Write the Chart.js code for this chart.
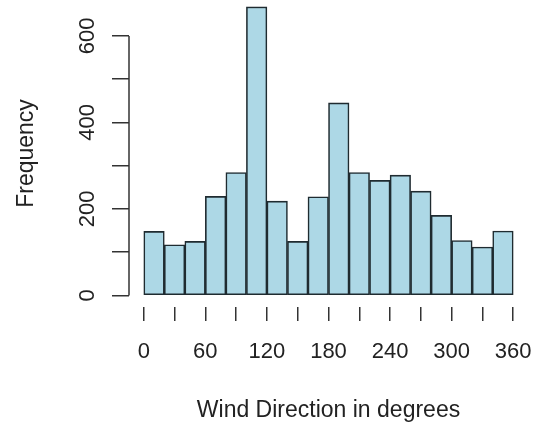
<!DOCTYPE html>
<html lang="en">
<head>
<meta charset="UTF-8">
<title>Wind Direction Histogram</title>
<script src="https://cdn.jsdelivr.net/npm/chart.js"></script>
<style>
    body { margin: 0; background: #fff; }
    #wrap { width: 535px; height: 424px; }
</style>
</head>
<body>
<div id="wrap"><canvas id="hist" width="535" height="424"></canvas></div>
<script>
// bins of 20 degrees, 0..360
const binStarts = [0, 20, 40, 60, 80, 100, 120, 140, 160, 180, 200, 220, 240, 260, 280, 300, 320, 340];
const binWidth = 20;
const counts = [148, 117, 125, 229, 284, 667, 218, 125, 228, 445, 284, 266, 278, 241, 185, 127, 112, 149];
const xTicks = [0, 30, 60, 90, 120, 150, 180, 210, 240, 270, 300, 330, 360];
const yTicks = [0, 100, 200, 300, 400, 500, 600];

const font = 'Liberation Sans, Arial, Helvetica, sans-serif';
const ink = '#222';

// R style axis line: only spans first to last tick
const axisLine = {
    id: 'axisLine',
    afterDraw(chart) {
        const ctx = chart.ctx;
        const y = chart.scales.y;
        const left = chart.chartArea.left;
        ctx.save();
        ctx.strokeStyle = '#333';
        ctx.lineWidth = 1.5;
        ctx.beginPath();
        ctx.moveTo(left, y.getPixelForValue(yTicks[0]));
        ctx.lineTo(left, y.getPixelForValue(yTicks[yTicks.length - 1]));
        ctx.stroke();
        ctx.restore();
    }
};

// keep the plot region fixed, labels may overhang
function fixX(s) { s.height = 117; s.paddingLeft = 0; s.paddingRight = 0; }
function fixY(s) { s.width = 129; s.paddingTop = 0; s.paddingBottom = 0; }

new Chart(document.getElementById('hist'), {
    type: 'bar',
    data: {
        datasets: [{
            data: binStarts.map((b, i) => ({ x: b + binWidth / 2, y: counts[i] })),
            backgroundColor: '#add8e6',
            borderColor: '#1f2b30',
            borderWidth: 1.6,
            borderSkipped: false,
            barPercentage: 1,
            categoryPercentage: 1
        }]
    },
    options: {
        responsive: false,
        animation: false,
        layout: { padding: { top: 0, right: 7, left: 0, bottom: 0 } },
        plugins: { legend: { display: false }, tooltip: { enabled: false } },
        scales: {
            x: {
                type: 'linear',
                offset: false,
                min: -14.4,
                max: 374.4,
                afterBuildTicks: s => { s.ticks = xTicks.map(v => ({ value: v })); },
                afterFit: fixX,
                border: { display: false },
                grid: { display: true, offset: false, drawOnChartArea: false, drawTicks: true, tickLength: 14, color: '#333', lineWidth: 1.5 },
                ticks: {
                    autoSkip: false, maxRotation: 0, padding: 18, color: ink,
                    font: { family: font, size: 22 },
                    callback: v => (v % 60 === 0 ? v : '')
                },
                title: {
                    display: true, text: 'Wind Direction in degrees', color: ink,
                    font: { family: font, size: 23 }, padding: { top: 0, bottom: 0 }
                }
            },
            y: {
                min: -26.7,
                max: 683,
                afterBuildTicks: s => { s.ticks = yTicks.map(v => ({ value: v })); },
                afterFit: fixY,
                border: { display: false },
                grid: { display: true, drawOnChartArea: false, drawTicks: true, tickLength: 17, color: '#333', lineWidth: 1.5 },
                ticks: {
                    autoSkip: false, minRotation: 90, maxRotation: 90, crossAlign: 'center', padding: 6, color: ink,
                    font: { family: font, size: 22 },
                    callback: v => (v % 200 === 0 ? v : '')
                },
                title: {
                    display: true, text: 'Frequency', color: ink,
                    font: { family: font, size: 23 }, padding: { top: 13, bottom: 0 }
                }
            }
        }
    },
    plugins: [axisLine]
});
</script>
</body>
</html>
